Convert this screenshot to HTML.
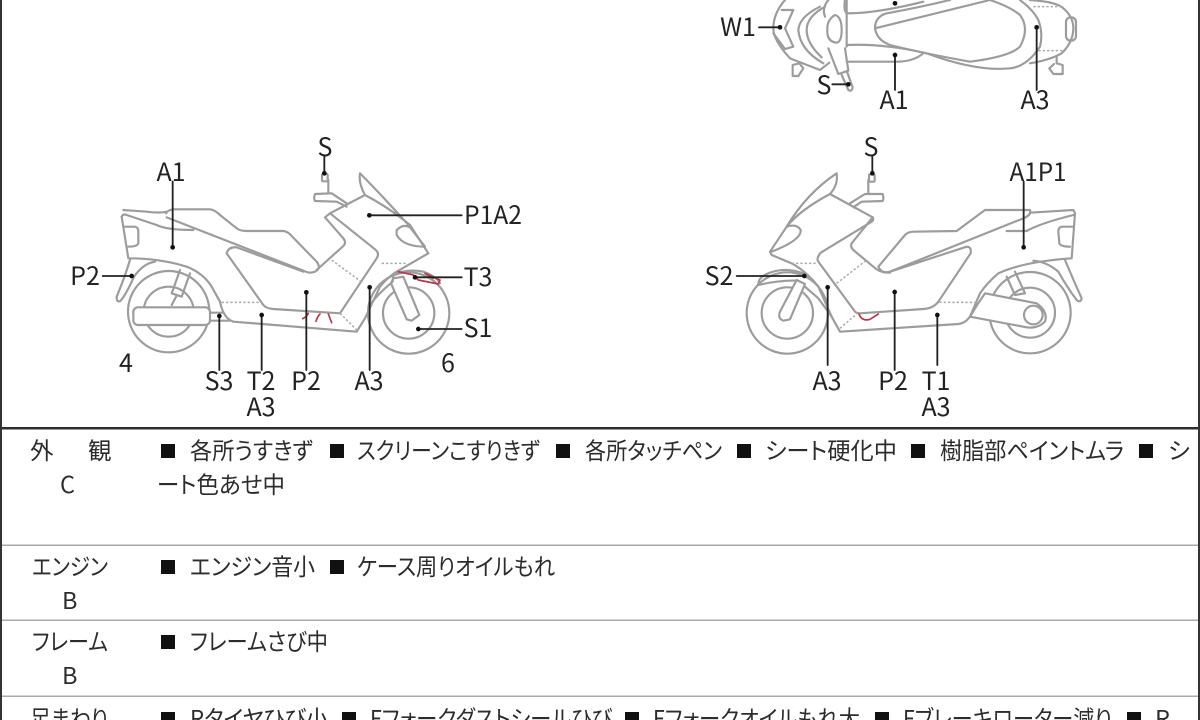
<!DOCTYPE html>
<html lang="ja"><head><meta charset="utf-8"><title>車両状態図</title>
<style>
html,body{margin:0;padding:0;background:#fff;width:1200px;height:720px;overflow:hidden}
svg{display:block;position:absolute;left:0;top:0;filter:blur(.3px)}
text{font-family:"Liberation Sans","Noto Sans CJK JP",sans-serif;fill:#262626}
.l text{font-family:"Noto Sans CJK JP","Liberation Sans",sans-serif;font-size:25px;text-anchor:middle;fill:#222}
.t text{font-family:"Noto Sans CJK JP",sans-serif;font-size:23.5px;font-feature-settings:"palt";fill:#2c2c2c}
.d path,.d circle,.d rect{fill:none;stroke:#9c9c9c;stroke-width:6.5;stroke-linejoin:round;stroke-linecap:round}
.d .w{fill:#fff}
.d .k{stroke:#aaa;stroke-width:4.5;stroke-dasharray:7 6;stroke-linecap:butt}
.d .r{stroke:#b5394a;stroke-width:5}
.d .n{stroke:#222;stroke-width:5.5}
.d .o{fill:#111;stroke:none}
</style></head><body>
<svg width="1200" height="720" viewBox="0 0 1200 720" xmlns="http://www.w3.org/2000/svg">
<rect width="1200" height="720" fill="#fff"/>

<!-- top view -->
<g class="d" transform="translate(710,0) scale(.33333)">
<path d="M225 0Q190 40 190 85Q190 120 240 175"/>
<path d="M215 30L250 30L225 85L250 140L225 147L190 100"/>
<path d="M330 20Q268 50 265 90Q270 150 340 190"/>
<path d="M345 20Q290 50 290 90Q290 130 335 172"/>
<path d="M375 45Q350 60 352 90Q350 125 380 128Q395 125 395 90Q395 50 375 45Z"/>
<path d="M410 0L410 35L410 140"/>
<path d="M355 0Q335 25 345 50M405 0Q400 30 410 40"/>
<path d="M240 175L330 210L358 188"/>
<path d="M355 145L385 222L415 212L405 145"/>
<path d="M395 225L415 270Q425 277 428 262L412 218"/>
<path d="M248 195L268 190L280 205L265 228L248 228Z"/>
<path d="M1040 170L1040 190L1058 195L1058 222L1030 222L1018 205L1032 192"/>
<path d="M495 85Q495 50 530 40Q630 22 720 0M840 0Q900 20 930 45Q960 85 930 140Q900 170 780 185Q640 160 540 135Q500 120 495 85Z"/>
<path d="M410 40Q500 40 640 5"/>
<path d="M410 135Q520 130 650 160Q800 215 900 205Q950 200 990 140Q1000 100 985 60Q970 30 930 0"/>
<path d="M410 185L560 185Q610 185 640 160"/>
<path d="M960 0Q1040 5 1060 25Q1090 50 1090 85Q1090 125 1055 160Q1020 180 960 190"/>
<path class="k" d="M970 20L1060 20M985 152L1060 152"/>
<rect x="1068" y="52" width="30" height="70" rx="14"/>
<path class="n" d="M147 82L210 82M367 253L415 253M555 165L555 270M980 82L980 270"/>
<circle class="o" cx="210" cy="82" r="7"/><circle class="o" cx="415" cy="253" r="7"/><circle class="o" cx="555" cy="165" r="7"/><circle class="o" cx="555" cy="10" r="7"/><circle class="o" cx="980" cy="82" r="7"/>
</g>

<!-- left bike -->
<g class="d" transform="translate(60,130) scale(.33333)">
<circle cx="326" cy="545" r="122"/><circle cx="326" cy="545" r="75"/>
<circle cx="1046" cy="549" r="122"/><circle cx="1046" cy="549" r="77"/>
<path d="M210 390Q195 440 170 500Q170 520 182 512Q200 490 222 440Q250 400 285 395"/>
<path d="M360 420L335 490L365 500L390 430M335 525L350 497"/>
<rect class="w" x="220" y="532" width="230" height="53" rx="14"/>
<path d="M450 548L490 548M450 572L510 572"/>
<path class="w" d="M1000 445L1030 440L1078 555L1055 572L1040 568L993 460Z"/>
<path d="M925 530Q955 490 998 455L1000 435Q1040 415 1090 425Q1130 440 1140 460"/>
<path d="M185 260Q190 250 200 255L290 285Q320 300 400 300"/>
<path d="M190 240L260 245Q300 250 320 245"/>
<path d="M185 260L205 385Q300 385 380 410Q430 430 455 470L480 515Q490 565 520 575L890 605L915 565L960 470Q985 440 1010 425L1105 370L1050 285"/>
<path d="M318 250Q325 238 345 238L450 238Q465 240 480 255L530 295Q540 303 560 303L670 303Q685 305 695 318L770 395Q785 415 765 425Q750 432 730 422L320 262"/>
<path d="M500 370Q505 350 530 352L730 425M500 370L610 525Q618 535 640 537L840 550L950 385Q960 370 945 358L810 250L795 262L850 325Q860 338 850 348L770 420"/>
<path d="M900 130Q960 190 1050 290M900 130Q895 160 915 195L810 250M915 195Q990 235 1050 285"/>
<path d="M1010 300Q1030 280 1050 292L1095 350Q1030 350 1010 315Z"/>
<path d="M190 290L225 290Q235 292 235 305L235 340Q232 350 205 350"/>
<path d="M860 220L815 190L765 192Q760 205 765 213L830 215L860 230"/>
<path d="M805 190L805 150"/>
<rect x="786" y="132" width="17" height="22" rx="3"/>
<path class="k" d="M485 517L600 517M815 390L910 460M965 400L1040 400M840 550L890 600"/>
<path class="r" d="M728 566Q740 560 745 550M768 574Q772 560 780 552M805 552Q810 565 815 578"/>
<path class="r" d="M1015 425L1060 435L1075 450L1135 462L1140 450L1095 430L1120 445"/>
<path class="n" d="M793 80L793 130M338 155L338 352M928 256L1205 256M128 438L215 438M1065 442L1205 442M1075 597L1205 597M478 558L478 720M605 555L605 720M739 487L739 720M929 472L929 720"/>
<circle class="o" cx="793" cy="130" r="7"/><circle class="o" cx="338" cy="352" r="7"/><circle class="o" cx="928" cy="256" r="7"/><circle class="o" cx="215" cy="438" r="7"/><circle class="o" cx="1065" cy="442" r="7"/><circle class="o" cx="1075" cy="597" r="7"/><circle class="o" cx="478" cy="558" r="7"/><circle class="o" cx="605" cy="555" r="7"/><circle class="o" cx="739" cy="487" r="7"/><circle class="o" cx="929" cy="472" r="7"/>
</g>

<!-- right bike -->
<g class="d" transform="translate(690,130) scale(.33333)">
<circle cx="292" cy="549" r="122"/><circle cx="292" cy="549" r="77"/>
<circle cx="1020" cy="548" r="122"/><circle cx="1020" cy="548" r="75"/>
<path d="M1125 390Q1150 450 1175 505Q1172 520 1160 510Q1130 470 1105 425Q1070 395 1030 392"/>
<path d="M950 440L975 495L1005 490L975 425"/>
<path class="w" d="M885 490L1040 520Q1075 545 1065 575Q1040 600 1000 590L840 560Q860 525 885 490Z"/>
<circle class="w" cx="1030" cy="555" r="28"/>
<path class="w" d="M270 545L320 450L345 462L300 568L280 572Q262 565 270 545Z"/>
<path d="M205 462Q205 440 240 428Q290 410 345 432M205 465Q270 450 322 452"/>
<path d="M345 470L385 505L425 560"/>
<path d="M1020 248L1150 240L1155 250L1145 385Q1000 395 925 430Q890 460 870 490L840 560Q825 580 805 582L450 605L425 560L385 470Q350 425 305 400L245 375L240 365L290 290"/>
<path d="M950 303L1010 303Q1050 280 1150 255"/>
<path d="M565 410L645 315Q655 305 670 305L800 303L885 240L1020 240Q1025 255 1000 265L600 425Q575 432 565 410Z"/>
<path d="M420 192L548 262Q552 270 545 275L392 368Q378 385 385 395L495 545Q500 550 510 550L700 537Q730 535 745 515L842 370Q845 350 830 350L600 425"/>
<path d="M548 262L485 340Q480 350 490 360L550 410Q570 430 600 428"/>
<path d="M1150 290L1115 290Q1105 292 1105 305L1108 340Q1112 350 1140 350"/>
<path d="M440 130Q350 190 290 290M440 130Q445 165 420 192Q330 240 290 290"/>
<path d="M290 290Q320 280 332 300Q335 330 245 365"/>
<path d="M480 220L525 192L578 192Q582 205 578 213L515 215L490 232"/>
<path d="M535 190L535 150"/>
<rect x="537" y="133" width="17" height="22" rx="3"/>
<path class="k" d="M305 400L378 400M440 460L530 390M748 517L860 517M450 595L500 552"/>
<path class="r" d="M507 552Q515 575 540 568L565 552"/>
<path class="n" d="M547 80L547 130M1001 155L1001 352M140 438L343 438M413 472L413 705M614 486L614 720M742 555L742 705"/>
<circle class="o" cx="547" cy="130" r="7"/><circle class="o" cx="1001" cy="352" r="7"/><circle class="o" cx="343" cy="438" r="7"/><circle class="o" cx="413" cy="472" r="7"/><circle class="o" cx="614" cy="486" r="7"/><circle class="o" cx="742" cy="555" r="7"/>
</g>

<!-- diagram labels -->
<g class="l">
<text x="325" y="156">S</text><text x="171" y="181">A1</text>
<text x="493" y="224" textLength="58" lengthAdjust="spacingAndGlyphs">P1A2</text>
<text x="85" y="285">P2</text><text x="478" y="286">T3</text><text x="478" y="337">S1</text>
<text x="126" y="372">4</text><text x="448" y="372">6</text>
<text x="219" y="390">S3</text><text x="261" y="390">T2</text><text x="261" y="416">A3</text>
<text x="306" y="390">P2</text><text x="369" y="390">A3</text>
<text x="871" y="156">S</text>
<text x="1038" y="181" textLength="57" lengthAdjust="spacingAndGlyphs">A1P1</text>
<text x="719" y="285">S2</text><text x="827" y="390">A3</text><text x="893" y="390">P2</text>
<text x="936" y="390">T1</text><text x="936" y="416">A3</text>
<text x="738" y="36">W1</text><text x="824" y="94">S</text><text x="894" y="109">A1</text><text x="1035" y="109">A3</text>
</g>

<!-- table -->
<rect x="0" y="427" width="1200" height="2.5" fill="#2e2e2e"/>
<rect x="0" y="0" width="2" height="720" fill="#333"/>
<rect x="1198" y="0" width="2" height="720" fill="#333"/>
<rect x="2" y="544.5" width="1196" height="1.5" fill="#aaa"/>
<rect x="2" y="619.5" width="1196" height="1.5" fill="#aaa"/>
<rect x="2" y="695.5" width="1196" height="1.5" fill="#aaa"/>

<g class="t">
<text x="30" y="459">外</text><text x="88" y="459">観</text><text x="60" y="493">C</text>
<text x="32" y="575" textLength="76" lengthAdjust="spacingAndGlyphs">エンジン</text><text x="62" y="609">B</text>
<text x="32" y="650" textLength="76" lengthAdjust="spacingAndGlyphs">フレーム</text><text x="62" y="684">B</text>
<text x="30" y="727" textLength="78" lengthAdjust="spacingAndGlyphs">足まわり</text>

<text x="190" y="459" textLength="123" lengthAdjust="spacingAndGlyphs">各所うすきず</text>
<text x="357" y="459" textLength="183" lengthAdjust="spacingAndGlyphs">スクリーンこすりきず</text>
<text x="585" y="459" textLength="137" lengthAdjust="spacingAndGlyphs">各所タッチペン</text>
<text x="765" y="459" textLength="132" lengthAdjust="spacingAndGlyphs">シート硬化中</text>
<text x="940" y="459" textLength="184" lengthAdjust="spacingAndGlyphs">樹脂部ペイントムラ</text>
<text x="1168" y="459">シ</text>
<text x="157" y="493" textLength="128" lengthAdjust="spacingAndGlyphs">ート色あせ中</text>

<text x="190" y="575" textLength="125" lengthAdjust="spacingAndGlyphs">エンジン音小</text>
<text x="357" y="575" textLength="198" lengthAdjust="spacingAndGlyphs">ケース周りオイルもれ</text>
<text x="190" y="650" textLength="138" lengthAdjust="spacingAndGlyphs">フレームさび中</text>

<text x="190" y="727" textLength="138" lengthAdjust="spacingAndGlyphs">Rタイヤひび小</text>
<text x="370" y="727" textLength="242" lengthAdjust="spacingAndGlyphs">Fフォークダストシールひび</text>
<text x="653" y="727" textLength="207" lengthAdjust="spacingAndGlyphs">Fフォークオイルもれ大</text>
<text x="903" y="727" textLength="209" lengthAdjust="spacingAndGlyphs">Fブレーキローター減り</text>
<text x="1155" y="727">R</text>
</g>
<g fill="#111">
<rect x="161" y="444" width="14" height="14"/><rect x="330" y="444" width="14" height="14"/><rect x="556" y="444" width="14" height="14"/><rect x="737" y="444" width="14" height="14"/><rect x="911" y="444" width="14" height="14"/><rect x="1139" y="444" width="14" height="14"/>
<rect x="161" y="560" width="14" height="14"/><rect x="330" y="560" width="14" height="14"/>
<rect x="161" y="635" width="14" height="14"/>
<rect x="161" y="712" width="14" height="14"/><rect x="342" y="712" width="14" height="14"/><rect x="625" y="712" width="14" height="14"/><rect x="875" y="712" width="14" height="14"/><rect x="1127" y="712" width="14" height="14"/>
</g>
</svg>
</body></html>
